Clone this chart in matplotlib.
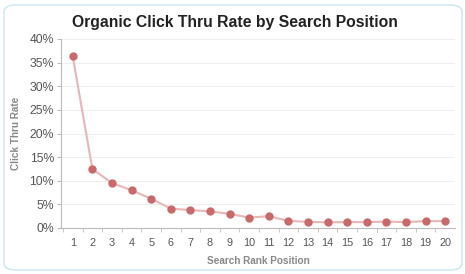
import matplotlib
matplotlib.use("Agg")
import matplotlib.pyplot as plt
from matplotlib.patches import FancyBboxPatch
from matplotlib.ticker import PercentFormatter

positions = list(range(1, 21))
ctr = [36.3, 12.5, 9.5, 8.0, 6.2, 4.1, 3.8, 3.5, 3.0, 2.2,
       2.5, 1.5, 1.3, 1.2, 1.25, 1.25, 1.35, 1.25, 1.45, 1.45]
y_ticks = [0, 5, 10, 15, 20, 25, 30, 35, 40]

plt.rcParams['font.family'] = ['Liberation Sans', 'DejaVu Sans']

fig = plt.figure(figsize=(4.65, 2.74), dpi=100)
fig.patch.set_facecolor('white')
border = FancyBboxPatch((4/465, 4/274), 458/465, 265/274,
                        boxstyle="round,pad=0,rounding_size=0.025",
                        transform=fig.transFigure, facecolor='none',
                        edgecolor='#cfe9f4', linewidth=1.2, zorder=-1)
fig.patches.append(border)

ax = fig.add_axes([61/465, 1-228/274, 394/465, 189/274])
ax.set_facecolor('none')
ax.plot(positions, ctr, color='#e9b5b5', linewidth=1.5, zorder=2)
ax.plot(positions, ctr, linestyle='none', marker='o', markersize=5,
        color='#c96a6a', zorder=3)

ax.set_xlim(0.4, 20.5)
ax.set_ylim(0, 40)
ax.set_yticks(y_ticks)
ax.yaxis.set_major_formatter(PercentFormatter(decimals=0))
ax.set_xticks(positions)
ax.set_xticks([p + 0.5 for p in positions[:-1]] + [0.5], minor=True)
ax.tick_params(axis='x', which='major', length=0, labelsize=7.8,
               labelcolor='#555555', pad=7)
ax.tick_params(axis='x', which='minor', length=3, color='#bbbbbb')
ax.tick_params(axis='y', length=3, color='#bbbbbb', labelsize=8.8,
               labelcolor='#555555', pad=2)
ax.grid(axis='y', color='#eeeeee', linewidth=0.8)
for s in ['top', 'right']:
    ax.spines[s].set_visible(False)
ax.spines['left'].set_color('#bbbbbb')
ax.spines['bottom'].set_color('#bbbbbb')

ax.set_xlabel('Search Rank Position', fontsize=7.2, fontweight='bold',
              color='#888888', labelpad=6)
ax.set_ylabel('Click Thru Rate', fontsize=7.2, fontweight='bold',
              color='#888888', labelpad=6)
fig.text(235/465, 1-23/274, 'Organic Click Thru Rate by Search Position',
         ha='center', va='center', fontsize=11.3, fontweight='bold',
         color='#222222')

fig.savefig('out.png', dpi=100, facecolor='white')
